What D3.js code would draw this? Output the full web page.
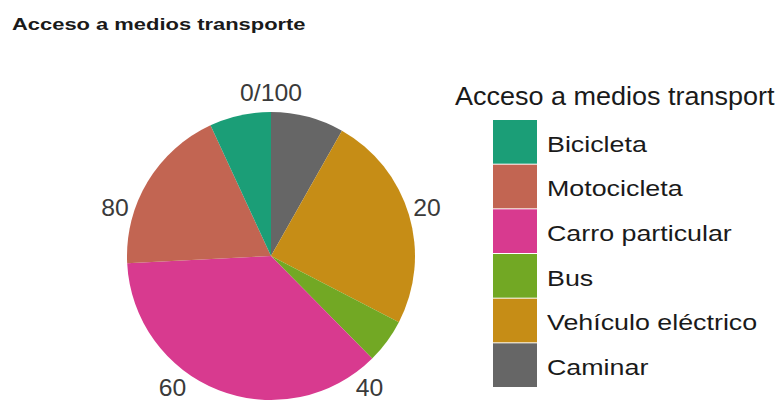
<!DOCTYPE html>
<html>
<head>
<meta charset="utf-8">
<script src="https://cdn.jsdelivr.net/npm/d3@7"></script>
<style>
  html, body { margin: 0; padding: 0; background: #fff; }
  svg { display: block; font-family: "Liberation Sans", Arial, sans-serif; }
</style>
</head>
<body>
<svg id="chart" width="781" height="403"></svg>
<script>
// Shares (%) of each transport mode, clockwise from the top of the pie
const modes = ["Caminar", "Vehículo eléctrico", "Bus", "Carro particular", "Motocicleta", "Bicicleta"];
const shares = [8.2, 24.4, 5.0, 36.6, 18.9, 6.9];
const modeColors = ["#666666", "#c68d16", "#72a824", "#d83a8f", "#c26552", "#1b9e77"];
// Legend lists the modes in reverse stacking order
const legendOrder = ["Bicicleta", "Motocicleta", "Carro particular", "Bus", "Vehículo eléctrico", "Caminar"];
// Percent ticks around the rim
const tickValues = [0, 20, 40, 60, 80];
const tickLabels = ["0/100", "20", "40", "60", "80"];

const svg = d3.select("#chart");
const cx = 271, cy = 256, r = 144;

const color = d3.scaleOrdinal().domain(modes).range(modeColors);
const angle = d3.scaleLinear().domain([0, 100]).range([0, 2 * Math.PI]);

// Place a text with a horizontal widening factor; hjust/vjust as fractions of its box
function placeText(parent, str, px, py, opts) {
  const k = opts.stretch || 1;
  const g = parent.append("g");
  const t = g.append("text")
    .attr("font-size", opts.size)
    .attr("font-weight", opts.weight || "normal")
    .attr("fill", opts.fill || "#1a1a1a")
    .text(str);
  const w = t.node().getComputedTextLength();
  const h = opts.size * 0.716;
  const hj = opts.hjust || 0, vj = opts.vjust || 0;
  const x0 = px - hj * w * k;
  const base = py + vj * h;
  g.attr("transform", `translate(${x0},${base}) scale(${k},1)`);
  return g;
}

// Title
placeText(svg, "Acceso a medios transporte", 12, 30,
  { size: 17, weight: "bold", stretch: 1.29, fill: "#1a1a1a" });

// Pie slices (stacked clockwise from 12 o'clock)
const pie = d3.pie().sort(null).value(d => d.v)
  .startAngle(0).endAngle(angle(100));
const arc = d3.arc().innerRadius(0).outerRadius(r);
const data = modes.map((m, i) => ({ m, v: shares[i] }));

const g = svg.append("g").attr("transform", `translate(${cx},${cy})`);
g.selectAll("path")
  .data(pie(data))
  .join("path")
  .attr("d", arc)
  .attr("fill", d => color(d.data.m));

// Rim tick labels, justified away from the circle
tickValues.forEach((v, i) => {
  const a = angle(v);
  const s = Math.sin(a), c = Math.cos(a);
  const lr = r + 4 + 7 * Math.abs(c);
  placeText(svg, tickLabels[i], cx + lr * s, cy - lr * c, {
    size: 24, stretch: 1.03, fill: "#3a3a3a",
    hjust: 0.5 * (1 - s), vjust: 0.5 * (1 - c)
  });
});

// Legend
placeText(svg, "Acceso a medios transport", 455, 105,
  { size: 25, stretch: 1.08, fill: "#1a1a1a" });

const keyY = d3.scaleBand().domain(legendOrder).range([120, 388]);
const keys = svg.selectAll("g.key")
  .data(legendOrder)
  .join("g")
  .attr("class", "key")
  .attr("transform", d => `translate(493,${keyY(d)})`);
keys.append("rect")
  .attr("width", 44)
  .attr("height", keyY.bandwidth() - 1)
  .attr("fill", d => color(d));
keys.each(function (d) {
  placeText(d3.select(this), d, 54, keyY.bandwidth() / 2 + 1.5, {
    size: 22, stretch: 1.22, fill: "#1a1a1a", vjust: 0.5
  });
});
</script>
</body>
</html>
